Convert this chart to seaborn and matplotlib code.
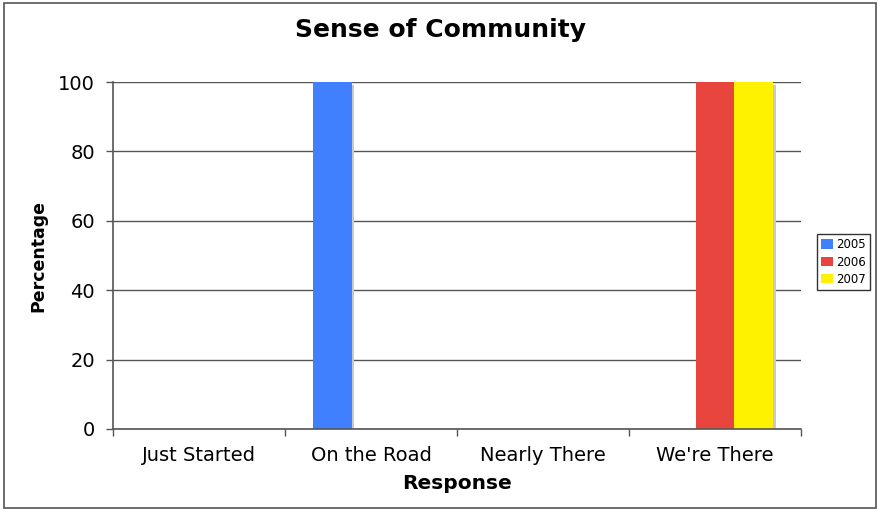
import matplotlib
matplotlib.use("Agg")
import matplotlib.pyplot as plt
import matplotlib.patheffects as pe
from matplotlib.patches import Rectangle
import seaborn as sns
import pandas as pd

categories = ["Just Started", "On the Road", "Nearly There", "We're There"]
years = ["2005", "2006", "2007"]
values_2005 = [0, 100, 0, 0]
values_2006 = [0, 0, 0, 100]
values_2007 = [0, 0, 0, 100]
colors = ["#4080FF", "#E8453F", "#FFF200"]

rows = []
for yr, vals in zip(years, [values_2005, values_2006, values_2007]):
    for c, v in zip(categories, vals):
        rows.append({"Response": c, "Year": yr, "Percentage": v})
df = pd.DataFrame(rows)

sns.set_theme(style="white")
plt.rcParams["font.family"] = ["DejaVu Sans"]
plt.rcParams["text.color"] = "black"
plt.rcParams["axes.labelcolor"] = "black"
plt.rcParams["xtick.labelcolor"] = "black"
plt.rcParams["ytick.labelcolor"] = "black"

fig = plt.figure(figsize=(8.79, 5.12), dpi=100)
ax = fig.add_axes([113/879, 1-429/512, (801-113)/879, (429-82)/512])

sns.barplot(data=df, x="Response", y="Percentage", hue="Year", order=categories,
            hue_order=years, palette=colors, width=0.68, saturation=1,
            ax=ax, legend=True, edgecolor="none", linewidth=0)

for p in ax.patches:
    if p.get_height() > 0:
        p.set_path_effects([pe.SimplePatchShadow(offset=(2, -2), shadow_rgbFace="#c8c8c8", alpha=1), pe.Normal()])

ax.set_ylim(0, 100)
ax.set_xlim(-0.5, 3.5)
ax.set_yticks([0, 20, 40, 60, 80, 100])
ax.yaxis.grid(True, color="#555555", linewidth=1)
ax.set_axisbelow(True)
ax.tick_params(axis="y", labelsize=14, length=5, width=1, color="#555555", left=True, pad=8,
               labelcolor="black")
ax.set_xticks([0, 1, 2, 3])
ax.set_xticklabels(categories)
ax.set_xticks([-0.5, 0.5, 1.5, 2.5, 3.5], minor=True)
ax.tick_params(axis="x", which="major", length=0, labelsize=14, pad=12, labelcolor="black")
ax.tick_params(axis="x", which="minor", length=5, width=1, color="#555555", bottom=True)

for s in ["top", "right"]:
    ax.spines[s].set_visible(False)
for s in ["left", "bottom"]:
    ax.spines[s].set_color("#555555")
    ax.spines[s].set_linewidth(1.2)

ax.set_xlabel("Response", fontsize=14.5, fontweight="bold", labelpad=7, color="black")
ax.set_ylabel("Percentage", fontsize=12.5, fontweight="bold", labelpad=8, color="black")
fig.text(441/879, 1-30/512, "Sense of Community", fontsize=18, fontweight="bold",
         color="black", ha="center", va="center")

leg = ax.legend(loc="center left", bbox_to_anchor=(817/879, 1-262/512), bbox_transform=fig.transFigure,
                fontsize=8.5, frameon=True, fancybox=False, edgecolor="#000000",
                handlelength=1.0, handleheight=0.9, handletextpad=0.3, borderpad=0.35,
                labelspacing=0.35, borderaxespad=0)
leg.get_frame().set_linewidth(1)
for t in leg.get_texts():
    t.set_color("black")

fig.patches.append(Rectangle((4/879, 1-508/512), (876-4)/879, (508-3)/512, transform=fig.transFigure,
                             fill=False, edgecolor="#555555", linewidth=1.2))

fig.savefig("out.png", dpi=100)
